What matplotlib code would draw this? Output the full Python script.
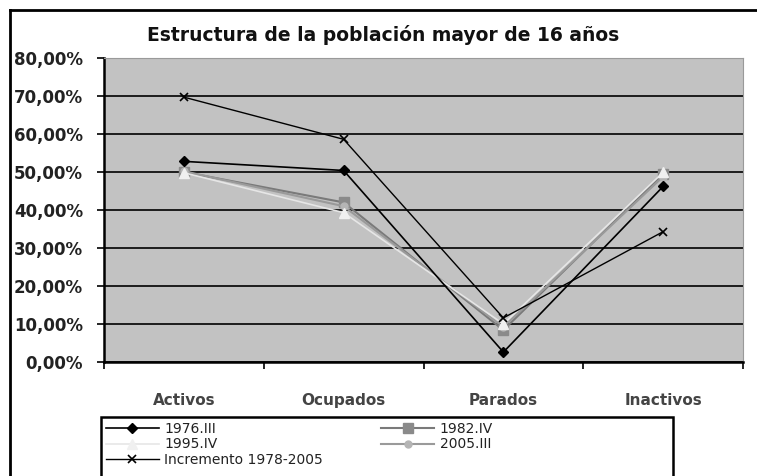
import numpy as np
from matplotlib import pyplot as plt
from matplotlib.patches import Rectangle
from matplotlib.lines import Line2D

# categorias y series (porcentaje de la poblacion > 16 anos)
categorias = ['Activos', 'Ocupados', 'Parados', 'Inactivos']
s1976 = [52.8, 50.4, 2.6, 46.2]
s1982 = [50.0, 42.0, 8.4, 49.5]
s1995 = [49.8, 39.3, 10.0, 49.9]
s2005 = [50.2, 41.0, 9.2, 48.8]
incremento = [69.7, 58.6, 11.6, 34.3]
yticks = [0, 10, 20, 30, 40, 50, 60, 70, 80]

W, H = 757, 476
fig = plt.figure(figsize=(W/100, H/100), dpi=100)
fig.patch.set_facecolor('white')

# marco exterior (cortado a la derecha y abajo)
fig.add_artist(Line2D([10/W, 1], [1-10/H, 1-10/H], color='black', lw=2, transform=fig.transFigure))
fig.add_artist(Line2D([10/W, 10/W], [0, 1-10/H], color='black', lw=2, transform=fig.transFigure))

ax = fig.add_axes([104/W, 1-362/H, (743-104)/W, (362-58)/H])
ax.set_facecolor('#c2c2c2')

x = np.arange(len(categorias))
ax.set_xlim(-0.5, 3.5)
ax.set_ylim(0, 80)

for v in yticks:
    ax.axhline(v, color='black', lw=1.2, zorder=1)

l1, = ax.plot(x, s1976, color='black', lw=1.2, marker='D', ms=5.5, mfc='black', mec='black', zorder=5, label='1976.III')
l2, = ax.plot(x, s1982, color='#7a7a7a', lw=1.5, marker='s', ms=6.5, mfc='#8a8a8a', mec='#8a8a8a', zorder=3, label='1982.IV')
l3, = ax.plot(x, s1995, color='#e6e6e6', lw=1.2, marker='^', ms=6.5, mfc='#f0f0f0', mec='#f0f0f0', zorder=4, label='1995.IV')
l4, = ax.plot(x, s2005, color='#9a9a9a', lw=1.5, marker='o', ms=5, mfc='#b5b5b5', mec='#b5b5b5', zorder=3, label='2005.III')
l5, = ax.plot(x, incremento, color='black', lw=1.0, marker='x', ms=6, mew=1.2, zorder=5, label='Incremento 1978-2005')

for s in ['top', 'right']:
    ax.spines[s].set_color('#9a9a9a')
    ax.spines[s].set_linewidth(0.8)
for s in ['left', 'bottom']:
    ax.spines[s].set_color('black')
    ax.spines[s].set_linewidth(1.8)

ax.set_yticks(yticks)
ax.set_yticklabels(['%d,00%%' % v for v in yticks], fontsize=12, fontweight='bold', color='#222222')
ax.tick_params(axis='y', length=5, width=1.2, pad=10)

ax.set_xticks(x)
ax.set_xticklabels(categorias, fontsize=11, fontweight='bold', color='#444444')
ax.set_xticks(np.arange(-0.5, 4, 1), minor=True)
ax.tick_params(axis='x', which='major', length=0, pad=22)
ax.tick_params(axis='x', which='minor', length=5, width=1.2)

fig.text(383/W, 1-35/H, 'Estructura de la población mayor de 16 años', ha='center', va='center',
         fontsize=13.5, fontweight='bold', color='#111111')

# leyenda
fig.add_artist(Rectangle((101/W, -0.05), (673-101)/W, 0.05 + (476-417)/H, transform=fig.transFigure,
                         fill=False, edgecolor='black', lw=1.8))
leg = fig.legend(handles=[l1, l3, l5, l2, l4], ncol=2, loc='upper left',
                 bbox_to_anchor=(103/W, 1-419/H), frameon=False, fontsize=10,
                 handlelength=3.8, handletextpad=0.4, columnspacing=4.2,
                 labelspacing=0.12, borderaxespad=0, borderpad=0.2)
for t in leg.get_texts():
    t.set_color('#222222')

fig.savefig('out.png', dpi=100)
